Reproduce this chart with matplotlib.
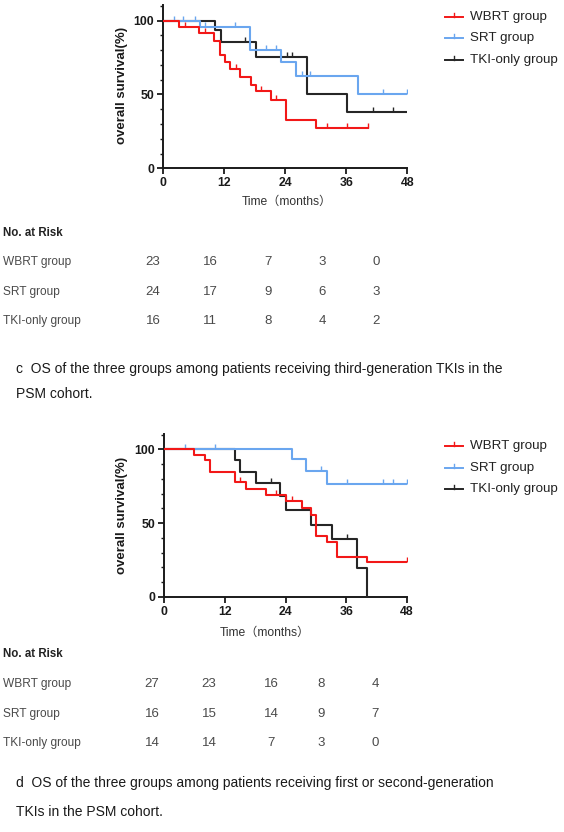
import numpy as np
import matplotlib
matplotlib.use("Agg")
import matplotlib.pyplot as plt
from matplotlib.lines import Line2D

plt.rcParams['font.family'] = ['Liberation Sans', 'Noto Sans CJK SC', 'DejaVu Sans']

# -------------------------------
# data: panel c (third-generation TKIs)
# -------------------------------
groups = ["WBRT group", "SRT group", "TKI-only group"]
colors = ["#f21818", "#6aa6ef", "#262626"]

c_wbrt_t = [0, 3.1, 7.1, 10.0, 11.2, 12.2, 13.2, 15.1, 17.2, 18.3, 21.2, 24.2, 30.1]
c_wbrt_s = [100, 95.7, 91.3, 86.0, 76.8, 72.2, 67.3, 62.0, 56.4, 52.0, 46.3, 33.0, 27.0]
c_wbrt_end = 40.2
c_wbrt_cens = [4.3, 8.2, 14.3, 19.2, 22.2, 32.2, 36.2, 40.2]

c_srt_t = [0, 7.2, 17.1, 23.2, 26.2, 38.3]
c_srt_s = [100, 95.8, 80.0, 71.8, 62.5, 50.0]
c_srt_end = 48
c_srt_cens = [2.1, 3.9, 6.2, 8.2, 14.1, 20.3, 22.2, 27.3, 28.9, 43.2, 48]

c_tki_t = [0, 10.2, 11.3, 18.2, 28.3, 36.2]
c_tki_s = [100, 93.5, 85.5, 75.5, 50.3, 37.9]
c_tki_end = 48
c_tki_cens = [16.1, 24.3, 25.3, 41.2, 45.2]

c_risk = [[23, 16, 7, 3, 0],
          [24, 17, 9, 6, 3],
          [16, 11, 8, 4, 2]]

# -------------------------------
# data: panel d (first or second-generation TKIs)
# -------------------------------
d_wbrt_t = [0, 6.0, 8.0, 9.1, 14.0, 16.2, 20.1, 24.1, 27.2, 29.1, 30.0, 32.1, 34.1, 40.1]
d_wbrt_s = [100, 96.3, 92.6, 85.0, 78.0, 73.3, 69.0, 64.8, 60.2, 55.7, 41.4, 37.1, 27.3, 23.4]
d_wbrt_end = 48
d_wbrt_cens = [15.0, 22.1, 25.2, 48]

d_srt_t = [0, 25.2, 28.1, 32.1]
d_srt_s = [100, 93.2, 85.2, 76.6]
d_srt_end = 48
d_srt_cens = [4.1, 10.0, 31.1, 36.2, 43.2, 45.2, 48]

d_tki_t = [0, 14.0, 15.0, 18.2, 23.0, 24.1, 29.1, 33.2, 38.1, 40.1]
d_tki_s = [100, 92.8, 85.0, 77.3, 68.2, 58.6, 48.9, 39.3, 19.8, 0]
d_tki_end = 40.1
d_tki_cens = [21.1, 36.2]

d_risk = [[27, 23, 16, 8, 4],
          [16, 15, 14, 9, 7],
          [14, 14, 7, 3, 0]]

xticks = [0, 12, 24, 36, 48]
yticks = [0, 50, 100]

cap_c = ["c  OS of the three groups among patients receiving third-generation TKIs in the",
         "PSM cohort."]
cap_d = ["d  OS of the three groups among patients receiving first or second-generation",
         "TKIs in the PSM cohort."]

W, H = 564, 832


def px(x, y):
    return x / W, 1 - y / H


def km(ax, t, s, end, cens, color):
    t = list(t) + [end]
    s = list(s) + [s[-1]]
    ax.step(t, s, where="post", color=color, lw=1.5, zorder=3)
    # censor marks sit on the curve at their time
    idx = np.searchsorted(t[:-1], cens, side="right") - 1
    cy = np.array(s)[idx]
    ax.plot(cens, cy, ls="none", marker=2, ms=3.5, mew=1.0, color=color, zorder=3)


def setup(ax):
    ax.set_xlim(0, 48)
    ax.set_ylim(0, 110.5)
    ax.set_xticks(xticks)
    ax.set_yticks(yticks)
    ax.set_yticks(np.arange(0, 111, 10), minor=True)
    for sp in ["top", "right"]:
        ax.spines[sp].set_visible(False)
    for sp in ["left", "bottom"]:
        ax.spines[sp].set_linewidth(1.4)
        ax.spines[sp].set_color("#1a1a1a")
    ax.spines["bottom"].set_bounds(0, 48)
    ax.tick_params(axis="both", which="major", direction="out", length=4.5, width=1.3,
                   labelsize=8.8, pad=2, colors="#1a1a1a")
    ax.tick_params(axis="y", which="minor", direction="out", length=2.5, width=1.0,
                   colors="#1a1a1a")
    for lab in ax.get_xticklabels() + ax.get_yticklabels():
        lab.set_fontweight("bold")
    ax.patch.set_alpha(0)


fig = plt.figure(figsize=(W / 100, H / 100), dpi=100)

panels = [
    dict(bottom=168.3, top=5, left=163.3, right=407.3,
         curves=[(c_tki_t, c_tki_s, c_tki_end, c_tki_cens, colors[2]),
                 (c_srt_t, c_srt_s, c_srt_end, c_srt_cens, colors[1]),
                 (c_wbrt_t, c_wbrt_s, c_wbrt_end, c_wbrt_cens, colors[0])],
         ylab_y=85, time_xy=(287, 202), leg_y=[17, 38, 60],
         risk=c_risk, risk_head=233, risk_rows=[262, 292, 321],
         cols=[153, 210, 268, 322, 376], cap=cap_c, cap_y=[369, 394]),
    dict(bottom=596.7, top=434, left=164, right=407,
         curves=[(d_tki_t, d_tki_s, d_tki_end, d_tki_cens, colors[2]),
                 (d_srt_t, d_srt_s, d_srt_end, d_srt_cens, colors[1]),
                 (d_wbrt_t, d_wbrt_s, d_wbrt_end, d_wbrt_cens, colors[0])],
         ylab_y=515, time_xy=(265, 633), leg_y=[446, 468, 489],
         risk=d_risk, risk_head=654, risk_rows=[684, 714, 743],
         cols=[152, 209, 271, 321, 375], cap=cap_d, cap_y=[783, 812]),
]

for p in panels:
    l, b = px(p["left"], p["bottom"])
    w = (p["right"] - p["left"]) / W
    h = (p["bottom"] - p["top"]) / H
    ax = fig.add_axes([l, b, w, h])
    for cv in p["curves"]:
        km(ax, *cv)
    setup(ax)

    fig.text(*px(122, p["ylab_y"]), "overall survival(%)", rotation=90, ha="center",
             va="center", fontsize=9.5, fontweight="bold", color="#1a1a1a")
    fig.text(*px(*p["time_xy"]), "Time（months）", ha="center", va="center",
             fontsize=8.7, color="#333333")

    # legend drawn by hand next to the plot
    for g, c, ly in zip(groups, colors, p["leg_y"]):
        x0, y0 = px(445, ly)
        x1, _ = px(463, ly)
        fig.add_artist(Line2D([x0, x1], [y0, y0], color=c, lw=1.4,
                              transform=fig.transFigure))
        fig.add_artist(Line2D([(x0 + x1) / 2] * 2, [y0, y0 + 4 / H], color=c, lw=1.0,
                              transform=fig.transFigure))
        fig.text(*px(470, ly), g, ha="left", va="center", fontsize=9.6, color="#222222")

    # numbers at risk
    fig.text(*px(3, p["risk_head"]), "No. at Risk", ha="left", va="center",
             fontsize=8.3, fontweight="bold", color="#222222")
    for g, row, ry in zip(groups, p["risk"], p["risk_rows"]):
        fig.text(*px(3, ry), g, ha="left", va="center", fontsize=8.6, color="#4a4a4a")
        for n, cx in zip(row, p["cols"]):
            fig.text(*px(cx, ry), str(n), ha="center", va="center", fontsize=9.5,
                     color="#4a4a4a")

    for line, cy in zip(p["cap"], p["cap_y"]):
        fig.text(*px(16, cy), line, ha="left", va="center", fontsize=10, color="#1a1a1a")

fig.savefig("out.png", dpi=100)
